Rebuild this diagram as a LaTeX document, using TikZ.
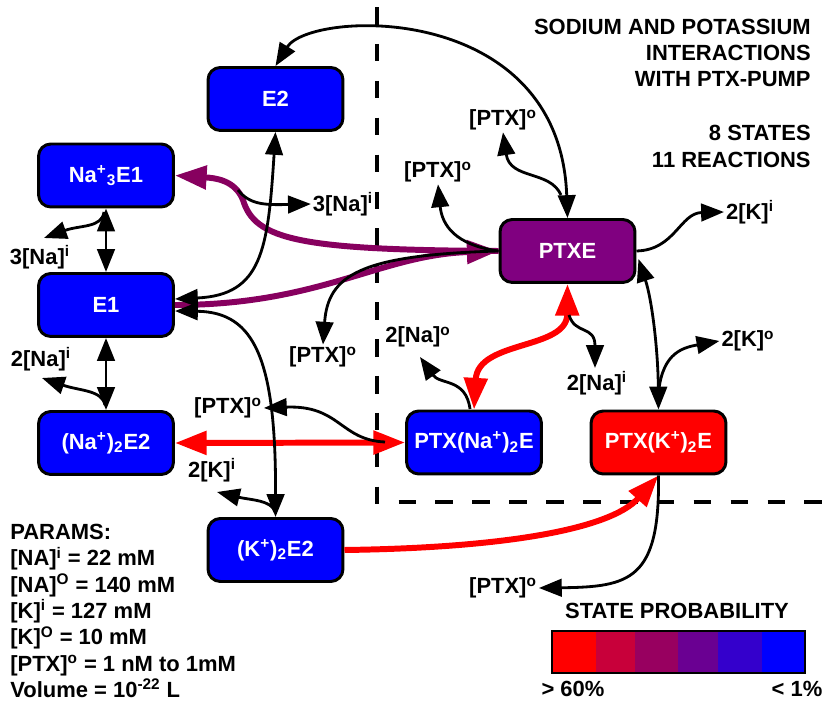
\documentclass[tikz,border=0pt]{standalone}
\usepackage{fontspec}
\setmainfont{Liberation Sans}
\usetikzlibrary{arrows.meta}
\usetikzlibrary{calc}

\definecolor{boxblue}{RGB}{0,0,255}
\definecolor{boxpurple}{RGB}{128,0,128}
\definecolor{boxred}{RGB}{255,0,0}
\definecolor{fluxpurple}{RGB}{135,0,95}
\definecolor{probA}{RGB}{255,0,0}
\definecolor{probB}{RGB}{200,0,58}
\definecolor{probC}{RGB}{152,0,96}
\definecolor{probD}{RGB}{106,0,146}
\definecolor{probE}{RGB}{52,0,204}
\definecolor{probF}{RGB}{0,0,255}

\tikzset{
  state/.style={draw, fill=#1, line width=1.7pt, rounded corners=7pt,
    minimum width=2.7cm, minimum height=1.26cm, inner sep=0pt, text=white},
  rxn/.style={line width=1.6pt, >={Triangle[length=13pt,width=10pt]}},
  flux/.style={line width=3.4pt, draw=#1, >={Triangle[length=18pt,width=13pt]}},
  ion/.style={inner sep=1pt},
}

\begin{document}
\begin{tikzpicture}[x=0.02cm, y=-0.02cm, font=\fontsize{12.5}{15}\selectfont\bfseries]
    \useasboundingbox (0,0) rectangle (822,702);

    % membrane
    \draw[line width=1.9pt, dash pattern=on 10pt off 11pt, dash phase=-4pt] (377,0) -- (377,502) -- (822,502);

    % states
    \node[state=boxblue] (E2) at (275.5,99) {E2};
    \node[state=boxblue] (NaE1) at (106,175.5) {Na\textsuperscript{+}\textsubscript{3}E1};
    \node[state=boxblue] (E1) at (106,305) {E1};
    \node[state=boxblue] (NaE2) at (106,443) {(Na\textsuperscript{+})\textsubscript{2}E2};
    \node[state=boxblue] (KE2) at (275.5,550) {(K\textsuperscript{+})\textsubscript{2}E2};
    \node[state=boxpurple] (PTXE) at (567.5,251) {PTXE};
    \node[state=boxblue] (PTXNaE) at (474,442.5) {PTX(Na\textsuperscript{+})\textsubscript{2}E};
    \node[state=boxred] (PTXKE) at (658.5,442.5) {PTX(K\textsuperscript{+})\textsubscript{2}E};

    % ion and toxin labels
    \node[ion] (naA) at (343,204) {3[Na]\textsuperscript{i}};
    \node[ion] (naB) at (40,257) {3[Na]\textsuperscript{i}};
    \node[ion] (naC) at (41,359) {2[Na]\textsuperscript{i}};
    \node[ion] (kA) at (212,470) {2[K]\textsuperscript{i}};
    \node[ion] (ptxA) at (503,120) {[PTX]\textsuperscript{o}};
    \node[ion] (ptxB) at (438,172) {[PTX]\textsuperscript{o}};
    \node[ion] (ptxC) at (323,357) {[PTX]\textsuperscript{o}};
    \node[ion] (ptxD) at (228,408) {[PTX]\textsuperscript{o}};
    \node[ion] (ptxE) at (503,588) {[PTX]\textsuperscript{o}};
    \node[ion] (kB) at (750,212) {2[K]\textsuperscript{i}};
    \node[ion] (naD) at (418,337) {2[Na]\textsuperscript{o}};
    \node[ion] (naE) at (597,383) {2[Na]\textsuperscript{i}};
    \node[ion] (kC) at (748,341) {2[K]\textsuperscript{o}};

    % branch points
    \coordinate (bArc) at (561,195);
    \coordinate (bPur) at (238,190);
    \coordinate (bTop) at (104,212);
    \coordinate (bLow) at (105,405);
    \coordinate (bK) at (275,512);
    \coordinate (bRed) at (385,442);
    \coordinate (bNaO) at (470,409);
    \coordinate (bNaI) at (569,315);
    \coordinate (bKO) at (658,400);

    % sodium and toxin fluxes
    \draw[flux=fluxpurple,->] (E1.east) .. controls (320,305) and (380,255) .. (PTXE.west);
    \draw[flux=fluxpurple,->] (PTXE.west) .. controls (300,250) and (255,240) .. (243,200)
        .. controls (235,180) and (215,178) .. (NaE1.east);
    \draw[flux=boxred,<->] (NaE2.east) -- (PTXNaE.west);
    \draw[flux=boxred,<->] (PTXNaE.north) .. controls (478,340) and (567,350) .. (PTXE.south);
    \draw[flux=boxred,->] (KE2.east) .. controls (500,548) and (610,530) .. (PTXKE.south);

    % reactions
    \draw[rxn,<->] (E2.north) .. controls (310,10) and (560,0) .. (PTXE.north);
    \draw[rxn,<->] (NaE1.south) -- (E1.north);
    \draw[rxn,<->] (E1.south) -- (NaE2.north);
    \draw[rxn,<->] (E2.south) .. controls (268,250) and (262,295) .. ($(E1.east)+(0,-6)$);
    \draw[rxn,<->] ($(E1.east)+(0,6)$) .. controls (255,312) and (276,360) .. (KE2.north);
    \draw[rxn,<->] ($(PTXE.east)+(2,8)$) .. controls (652,300) and (658,350) .. (PTXKE.north);

    % released ions and toxin
    \draw[rxn,->] (bArc) .. controls (550,170) and (510,180) .. (ptxA.south);
    \draw[rxn,->] (PTXE.west) .. controls (455,245) and (442,225) .. (ptxB.south);
    \draw[rxn,->] (PTXE.west) .. controls (360,255) and (328,275) .. (ptxC.north);
    \draw[rxn,->] (bPur) .. controls (250,205) and (265,205) .. (naA.west);
    \draw[rxn,->] (bTop) .. controls (102,228) and (80,225) .. (44,238);
    \draw[rxn,->] (bLow) .. controls (102,390) and (80,391) .. (42,378);
    \draw[rxn,->] (bK) .. controls (272,500) and (250,500) .. (217,492);
    \draw[rxn,->] (bRed) .. controls (340,440) and (340,405) .. (ptxD.east);
    \draw[rxn,->] (bNaO) .. controls (466,378) and (440,385) .. (420,357);
    \draw[rxn,->] (bNaI) .. controls (575,335) and (595,325) .. (595,368);
    \draw[rxn,->] (bKO) .. controls (660,355) and (680,348) .. (kC.west);
    \draw[rxn,->] (PTXE.east) .. controls (675,250) and (680,213) .. (kB.west);
    \draw[rxn,->] (PTXKE.south) .. controls (660,580) and (630,587) .. (ptxE.east);

    % title
    \node[anchor=east, align=right, inner sep=0pt] (title) at (811,53)
        {SODIUM AND POTASSIUM\\INTERACTIONS\\WITH PTX-PUMP};
    \node[anchor=east, align=right, inner sep=0pt] (count) at (811,146.5)
        {8 STATES\\11 REACTIONS};

    % parameters
    \node[anchor=west, align=left, inner sep=0pt] (params) at (10,611)
        {PARAMS:\\
         {[NA]}\textsuperscript{i} = 22 mM\\
         {[NA]}\textsuperscript{O} = 140 mM\\
         {[K]}\textsuperscript{i} = 127 mM\\
         {[K]}\textsuperscript{O} = 10 mM\\
         {[PTX]}\textsuperscript{o} = 1 nM to 1mM\\
         Volume = 10\textsuperscript{-22} L};

    % legend
    \node (probtitle) at (677,611) {STATE PROBABILITY};
    \fill[probA] (552,631) rectangle (596,673);
    \fill[probB] (596,631) rectangle (635,673);
    \fill[probC] (635,631) rectangle (678,673);
    \fill[probD] (678,631) rectangle (718,673);
    \fill[probE] (718,631) rectangle (762,673);
    \fill[probF] (762,631) rectangle (805,673);
    \draw[line width=0.8pt] (552,631) rectangle (805,673);
    \node (probhi) at (573,689) {> 60\%};
    \node (problo) at (797,689) {< 1\%};
\end{tikzpicture}
\end{document}
